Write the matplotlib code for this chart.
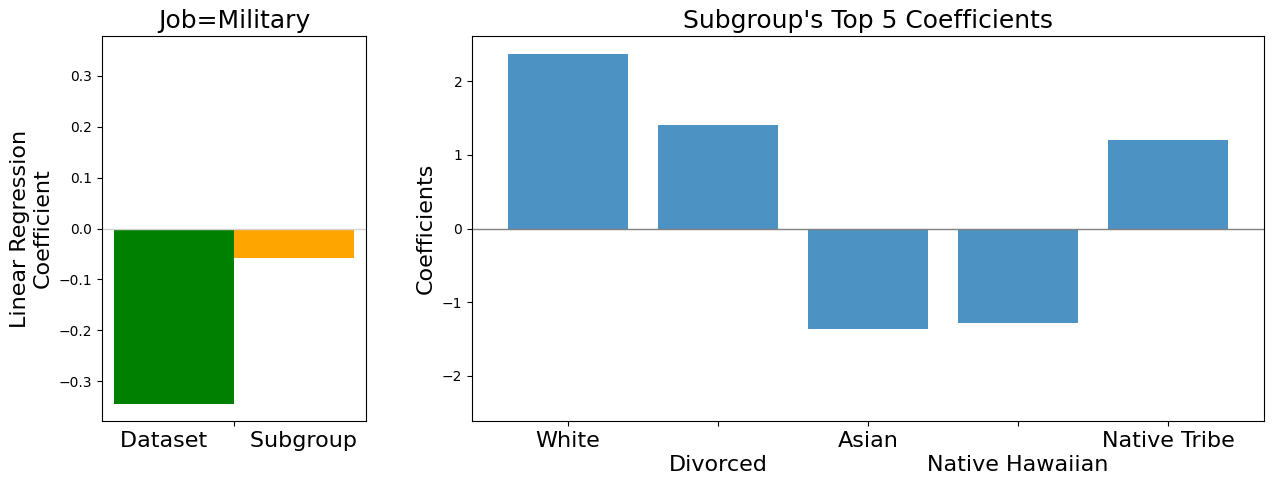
import matplotlib
matplotlib.use("Agg")
import matplotlib.pyplot as plt
import matplotlib.transforms as mtransforms
import numpy as np

left_title = "Job=Military"
left_values = [-0.344, -0.058]
left_colors = ["green", "orange"]
left_ticklabel = "Dataset      Subgroup"

right_title = "Subgroup's Top 5 Coefficients"
right_labels = ["White", "Divorced", "Asian", "Native Hawaiian", "Native Tribe"]
right_values = [2.375, 1.40, -1.36, -1.28, 1.20]

fig = plt.figure(figsize=(12.74, 4.84), dpi=100)
ax1 = fig.add_axes([102/1274, 63/484, 264/1274, 385/484])
ax2 = fig.add_axes([472/1274, 63/484, 792/1274, 385/484])

# Left panel
xl = np.arange(len(left_values))
ax1.bar(xl, left_values, width=1.0, color=left_colors)
ax1.axhline(0, color="lightgray", linewidth=1)
m1 = max(abs(v) for v in left_values) * 1.1
ax1.set_ylim(-m1, m1)
ax1.set_xticks([0.5])
ax1.set_xticklabels([left_ticklabel], fontsize=16)
for t in ax1.get_xticklabels():
    t.set_transform(t.get_transform() + mtransforms.ScaledTranslation(4/100, 0, fig.dpi_scale_trans))
ax1.set_title(left_title, fontsize=18)
ax1.set_ylabel("Linear Regression\nCoefficient", fontsize=16)

# Right panel
xr = np.arange(len(right_values))
ax2.bar(xr, right_values, width=0.8, color="tab:blue", alpha=0.8)
ax2.axhline(0, color="gray", linewidth=1)
m2 = max(abs(v) for v in right_values) * 1.1
ax2.set_ylim(-m2, m2)
ax2.set_xticks(xr)
ax2.set_xticklabels(right_labels, fontsize=16)
for i, t in enumerate(ax2.get_xticklabels()):
    if i % 2 == 1:
        t.set_y(-0.062)
ax2.set_title(right_title, fontsize=18)
ax2.set_ylabel("Coefficients", fontsize=16)

fig.savefig("out.png", dpi=100)
